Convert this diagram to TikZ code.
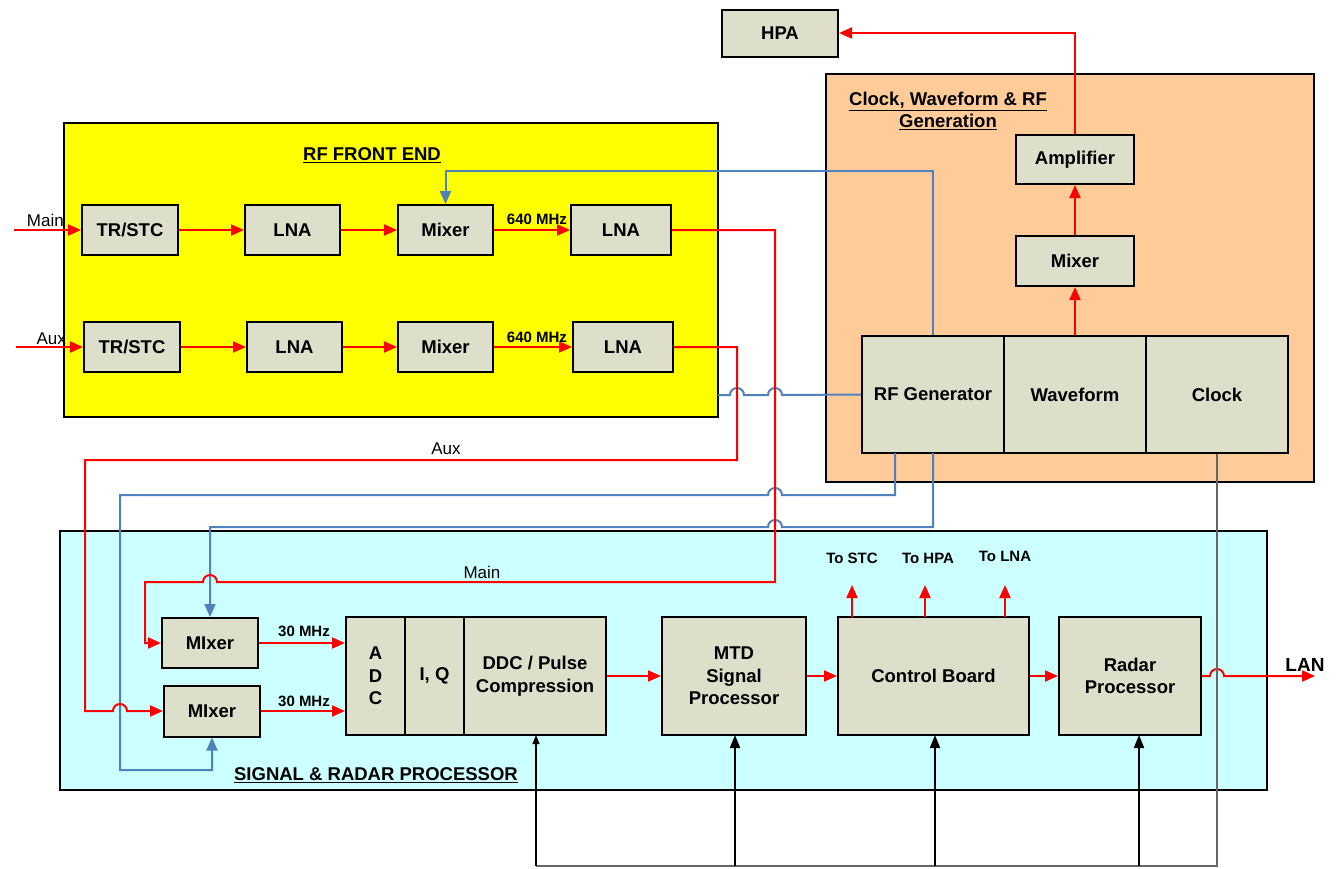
\documentclass[tikz,border=0pt]{standalone}
\usepackage{fontspec}
\setmainfont{Liberation Sans}
\usetikzlibrary{arrows.meta}
\definecolor{boxfill}{HTML}{DDDFCB}
\definecolor{yel}{HTML}{FFFF00}
\definecolor{org}{HTML}{FFCC99}
\definecolor{cya}{HTML}{CCFFFF}
\definecolor{blu}{HTML}{4F81BD}
\definecolor{rd}{HTML}{FF0000}
\definecolor{gry}{HTML}{666666}
\begin{document}
\begin{tikzpicture}[x=1pt,y=-1pt,
  panel/.style={draw=black, line width=2pt},
  blk/.style={draw=black, line width=2pt, fill=boxfill, font=\fontsize{18.5}{22.5}\selectfont\bfseries, align=center, inner sep=0pt},
  small/.style={font=\fontsize{15}{17}\selectfont\bfseries, inner sep=0pt},
  title/.style={font=\fontsize{18.5}{22}\selectfont\bfseries, align=center, inner sep=0pt},
  plain/.style={font=\fontsize{17}{20}\selectfont, inner sep=0pt},
  rl/.style={draw=rd, line width=2pt},
  ra/.style={rl, -{Triangle[length=13pt,width=11pt]}},
  bl/.style={draw=blu, line width=2pt},
  ba/.style={bl, -{Triangle[length=13pt,width=11pt]}},
  gl/.style={draw=gry, line width=1.2pt},
  ka/.style={draw=black, line width=2pt, -{Triangle[length=13pt,width=10pt]}},
  kt/.style={draw=black, line width=1.1pt, -{Triangle[length=9pt,width=7pt]}}]
\useasboundingbox (0,0) rectangle (1340,868);

% panels
\draw[panel, fill=yel] (64,123) rectangle (718,417);
\draw[panel, fill=org] (826,74) rectangle (1314,482);
\draw[panel, fill=cya] (60,531) rectangle (1267,790);
\node[title] (tfe) at (372,155) {\underline{RF FRONT END}};
\node[title] (tcw) at (948,111) {\underline{Clock, Waveform \& RF}\\\underline{Generation}};
\node[title] (tsp) at (376,775) {\underline{SIGNAL \& RADAR PROCESSOR}};

% RF front end
\node[blk, minimum width=96pt, minimum height=50pt] (tr1) at (130,230) {TR/STC};
\node[blk, minimum width=95pt, minimum height=50pt] (la1) at (292.5,230) {LNA};
\node[blk, minimum width=95pt, minimum height=50pt] (mx1) at (445.5,230) {Mixer};
\node[blk, minimum width=100pt, minimum height=50pt] (lb1) at (621,230) {LNA};
\node[blk, minimum width=96pt, minimum height=50pt] (tr2) at (132,347) {TR/STC};
\node[blk, minimum width=95pt, minimum height=50pt] (la2) at (294.5,347) {LNA};
\node[blk, minimum width=95pt, minimum height=50pt] (mx2) at (445.5,347) {Mixer};
\node[blk, minimum width=100pt, minimum height=50pt] (lb2) at (623,347) {LNA};

% Clock / waveform
\node[blk, minimum width=116pt, minimum height=47pt] (hpa) at (780,33.5) {HPA};
\node[blk, minimum width=118pt, minimum height=49pt] (amp) at (1075,159.5) {Amplifier};
\node[blk, minimum width=118pt, minimum height=50pt] (mx3) at (1075,261) {Mixer};
\node[blk, minimum width=142pt, minimum height=117pt] (rfg) at (933,394.5) {RF Generator};
\node[blk, minimum width=142pt, minimum height=117pt] (wav) at (1075,394.5) {Waveform};
\node[blk, minimum width=142pt, minimum height=117pt] (clk) at (1217,394.5) {Clock};

% Signal processor
\node[blk, minimum width=96pt, minimum height=50pt] (mxa) at (210,643) {MIxer};
\node[blk, minimum width=96pt, minimum height=51pt] (mxb) at (212,711) {MIxer};
\node[blk, minimum width=59pt, minimum height=118pt] (adc) at (375.5,676) {A\\D\\C};
\node[blk, minimum width=59pt, minimum height=118pt] (iq) at (434.5,676) {I, Q};
\node[blk, minimum width=142pt, minimum height=118pt] (ddc) at (535,676) {DDC / Pulse\\Compression};
\node[blk, minimum width=144pt, minimum height=118pt] (mtd) at (734,676) {MTD\\Signal\\Processor};
\node[blk, minimum width=191pt, minimum height=118pt] (ctl) at (933.5,676) {Control Board};
\node[blk, minimum width=142pt, minimum height=118pt] (rdp) at (1130,676) {Radar\\Processor};

% inputs
\coordinate (inM) at (14,230);
\coordinate (inA) at (16,347);
\draw[ra] (inM) -- (tr1.west);
\draw[ra] (inA) -- (tr2.west);
\node[plain, anchor=base east] (lM) at (64,226) {Main};
\node[plain, anchor=base east] (lA) at (66,344) {Aux};

% front-end chains
\draw[ra] (tr1) -- (la1);
\draw[ra] (la1) -- (mx1);
\draw[ra] (mx1) -- (lb1);
\draw[ra] (tr2) -- (la2);
\draw[ra] (la2) -- (mx2);
\draw[ra] (mx2) -- (lb2);
\node[small] (f1) at (537,219) {640 MHz};
\node[small] (f2) at (537,337) {640 MHz};

% orange chain
\draw[ra] (wav.north) -- (mx3.south);
\draw[ra] (mx3.north) -- (amp.south);
\draw[ra] (amp.north) -- (1075,33) -- (hpa.east |- 0,33);

% blue LO lines
\draw[ba] (rfg.north) -- (933,171) -- (445.5,171) -- (mx1.north);
\draw[bl] (rfg.west) -- (782,395) arc[start angle=0,end angle=-180,radius=7] -- (744,395) arc[start angle=0,end angle=-180,radius=7] -- (718,395);
\draw[ba] (895,453) -- (895,495) -- (782,495) arc[start angle=0,end angle=-180,radius=7] -- (120,495) -- (120,770) -| (mxb.south);
\draw[ba] (933,453) -- (933,527) -- (782,527) arc[start angle=0,end angle=-180,radius=7] -- (210,527) -- (mxa.north);

% red IF lines
\draw[ra] (lb1.east) -- (775,230) -- (775,582) -- (217,582) arc[start angle=0,end angle=-180,radius=7] -- (145,582) -- (145,643) -- (mxa.west);
\draw[ra] (lb2.east) -- (737,347) -- (737,460) -- (85,460) -- (85,711) -- (113,711) arc[start angle=180,end angle=360,radius=7] -- (mxb.west);
\node[plain] (lAux) at (446,449) {Aux};
\node[plain] (lMain) at (482,572) {Main};

% 30 MHz to ADC
\draw[ra] (mxa.east) -- (mxa.east -| adc.west);
\draw[ra] (mxb.east) -- (mxb.east -| adc.west);
\node[small] (g1) at (304,631) {30 MHz};
\node[small] (g2) at (304,701) {30 MHz};

% processing chain
\draw[ra] (ddc.east) -- (mtd.west);
\draw[ra] (mtd.east) -- (ctl.west);
\draw[ra] (ctl.east) -- (rdp.west);
\coordinate (lanend) at (1315,676);
\draw[ra] (rdp.east) -- (1210,676) arc[start angle=180,end angle=360,radius=7] -- (lanend);
\node[font=\fontsize{19}{22}\selectfont\bfseries, inner sep=0pt] (lan) at (1305,665) {LAN};

% control board outputs
\coordinate (oS) at (852,585);
\coordinate (oH) at (925,585);
\coordinate (oL) at (1005,585);
\draw[ra] (852,617) -- (oS);
\draw[ra] (925,617) -- (oH);
\draw[ra] (1005,617) -- (oL);
\node[small] (tS) at (852,558) {To STC};
\node[small] (tH) at (928,558) {To HPA};
\node[small] (tL) at (1005,556) {To LNA};

% clock distribution
\draw[gl] (clk.south) -- (1217,866) -- (536,866);
\draw[kt] (536,866) -- (536,735);
\draw[ka] (735,866) -- (735,735);
\draw[ka] (935,866) -- (935,735);
\draw[ka] (1139,866) -- (1139,735);
\end{tikzpicture}
\end{document}
